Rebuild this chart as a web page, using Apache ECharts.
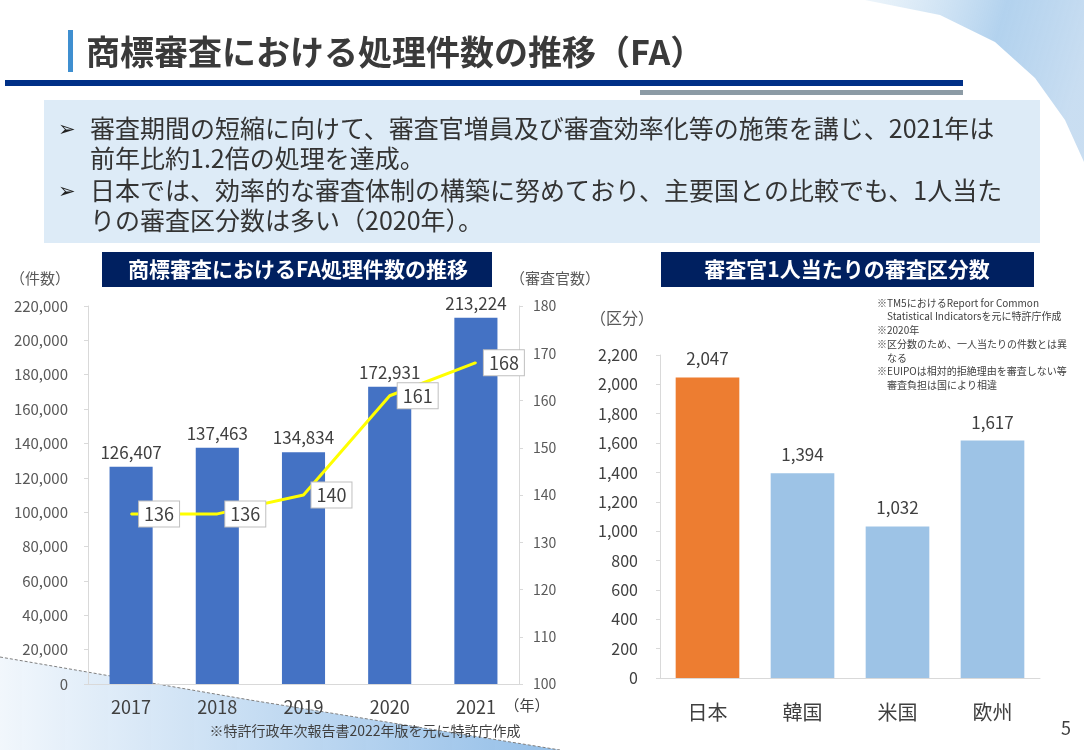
<!DOCTYPE html>
<html lang="ja">
<head>
<meta charset="UTF-8" />
<title>商標審査における処理件数の推移（FA）</title>
<script src="https://cdn.jsdelivr.net/npm/echarts@6/dist/echarts.min.js"></script>
<style>
  html, body { margin: 0; padding: 0; background: #fff; }
</style>
</head>
<body>
<div id="main" style="width: 1084px; height: 750px"></div>
<script type="text/javascript">
  // left chart data
  const years = ["2017", "2018", "2019", "2020", "2021"];
  const faCounts = [126407, 137463, 134834, 172931, 213224];
  const examiners = [136, 136, 140, 161, 168];

  // right chart data
  const countries = ["日本", "韓国", "米国", "欧州"];
  const classesPerExaminer = [2047, 1394, 1032, 1617];
  const countryColors = ["#ED7D31", "#9DC3E6", "#9DC3E6", "#9DC3E6"];

  const bullets = [
    ["審査期間の短縮に向けて、審査官増員及び審査効率化等の施策を講じ、2021年は", "前年比約1.2倍の処理を達成。"],
    ["日本では、効率的な審査体制の構築に努めており、主要国との比較でも、1人当た", "りの審査区分数は多い（2020年）。"]
  ];
  const notes = [
    "※TM5におけるReport for Common",
    "　Statistical Indicatorsを元に特許庁作成",
    "※2020年",
    "※区分数のため、一人当たりの件数とは異",
    "　なる",
    "※EUIPOは相対的拒絶理由を審査しない等",
    "　審査負担は国により相違"
  ];

  const FONT = '"Noto Sans CJK JP", "Noto Sans", sans-serif';
  const fmt = (v) => String(v).replace(/\B(?=(\d{3})+(?!\d))/g, ",");

  const myChart = echarts.init(document.getElementById("main"));

  // slide decoration + texts
  const graphics = [
    // top-right swoosh
    {
      type: "polygon", z: -10, silent: true,
      shape: { points: [[865, 0], [1084, 0], [1084, 162], [1065, 120], [1035, 78], [995, 42], [940, 15]] },
      style: {
        fill: new echarts.graphic.LinearGradient(0, 0, 1, 0.4, [
          { offset: 0, color: "rgba(225,238,248,0.6)" },
          { offset: 0.6, color: "rgba(165,202,235,0.85)" },
          { offset: 1, color: "rgba(195,218,240,0.9)" }
        ])
      }
    },
    // bottom-left swoosh
    {
      type: "polygon", z: -10, silent: true,
      shape: { points: [[0, 657], [250, 700], [560, 750], [0, 750]] },
      style: {
        fill: new echarts.graphic.LinearGradient(0, 0, 1, 0, [
          { offset: 0, color: "rgba(240,246,252,0.9)" },
          { offset: 1, color: "rgba(130,180,228,0.85)" }
        ])
      }
    },
    {
      type: "polyline", z: -9, silent: true,
      shape: { points: [[0, 657], [250, 700], [560, 750]] },
      style: { stroke: "#7F7F7F", lineWidth: 1, lineDash: [3, 2], fill: null }
    },
    // title
    { type: "rect", shape: { x: 68, y: 30, width: 5, height: 42 }, style: { fill: "#3F8FD0" } },
    {
      type: "text", x: 86, y: 52,
      style: { text: "商標審査における処理件数の推移（FA）", font: "bold 34px " + FONT, fill: "#3A3A3A", verticalAlign: "middle" }
    },
    { type: "rect", shape: { x: 5, y: 80, width: 958, height: 6 }, style: { fill: "#003087" } },
    { type: "rect", shape: { x: 640, y: 90, width: 323, height: 5 }, style: { fill: "#8C9BA5" } },
    // bullet box
    { type: "rect", z: -5, shape: { x: 44, y: 100, width: 996, height: 143 }, style: { fill: "#DDEBF7" } },
    // chart title boxes
    { type: "rect", shape: { x: 102, y: 252, width: 390, height: 35 }, style: { fill: "#002060" } },
    {
      type: "text", x: 298, y: 269,
      style: { text: "商標審査におけるFA処理件数の推移", font: "bold 21px " + FONT, fill: "#fff", align: "center", verticalAlign: "middle" }
    },
    { type: "rect", shape: { x: 661, y: 252, width: 373, height: 35 }, style: { fill: "#002060" } },
    {
      type: "text", x: 847, y: 269,
      style: { text: "審査官1人当たりの審査区分数", font: "bold 21px " + FONT, fill: "#fff", align: "center", verticalAlign: "middle" }
    },
    // axis names
    { type: "text", x: 40, y: 278, style: { text: "（件数）", font: "15px " + FONT, fill: "#595959", align: "center", verticalAlign: "middle" } },
    { type: "text", x: 555, y: 278, style: { text: "（審査官数）", font: "15px " + FONT, fill: "#595959", align: "center", verticalAlign: "middle" } },
    { type: "text", x: 622, y: 318, style: { text: "（区分）", font: "16px " + FONT, fill: "#595959", align: "center", verticalAlign: "middle" } },
    { type: "text", x: 527, y: 705, style: { text: "（年）", font: "15px " + FONT, fill: "#404040", align: "center", verticalAlign: "middle" } },
    // footnote + page number
    { type: "text", x: 365, y: 731, style: { text: "※特許行政年次報告書2022年版を元に特許庁作成", font: "14px " + FONT, fill: "#404040", align: "center", verticalAlign: "middle" } },
    { type: "text", x: 1066, y: 728, style: { text: "5", font: "18px " + FONT, fill: "#404040", align: "center", verticalAlign: "middle" } }
  ];

  bullets.forEach((lines, i) => {
    const y0 = 128 + i * 62;
    graphics.push({ type: "text", x: 58, y: y0, style: { text: "➢", font: "21px " + FONT, fill: "#222", verticalAlign: "middle" } });
    lines.forEach((t, j) => {
      graphics.push({ type: "text", x: 90, y: y0 + j * 30, style: { text: t, font: "25px " + FONT, fill: "#333", verticalAlign: "middle" } });
    });
  });

  notes.forEach((t, i) => {
    graphics.push({ type: "text", x: 877, y: 303 + i * 13.7, style: { text: t, font: "10px " + FONT, fill: "#404040", verticalAlign: "middle" } });
  });

  const axisLabel = { color: "#595959", fontSize: 15, fontFamily: FONT };
  const grayLine = { lineStyle: { color: "#D9D9D9", width: 1 } };

  const options = {
    textStyle: { fontFamily: FONT },
    animation: false,
    graphic: graphics,
    grid: [
      { left: 88, right: 565, top: 306, bottom: 66 },
      { left: 660, right: 44, top: 355, bottom: 72 }
    ],
    xAxis: [
      {
        type: "category", gridIndex: 0, data: years,
        axisLine: grayLine, axisTick: { show: false },
        axisLabel: { color: "#404040", fontSize: 18, margin: 14, fontFamily: FONT }
      },
      {
        type: "category", gridIndex: 1, data: countries,
        axisLine: grayLine, axisTick: { show: false },
        axisLabel: { color: "#404040", fontSize: 20, margin: 24, fontFamily: FONT }
      }
    ],
    yAxis: [
      {
        type: "value", gridIndex: 0, min: 0, max: 220000, interval: 20000,
        axisLine: { show: true, lineStyle: { color: "#D9D9D9" } },
        axisTick: { show: true, length: 4, lineStyle: { color: "#D9D9D9" } },
        splitLine: { show: false },
        axisLabel: Object.assign({ margin: 20, formatter: fmt }, axisLabel)
      },
      {
        type: "value", gridIndex: 0, position: "right", min: 100, max: 180, interval: 10,
        axisLine: { show: true, lineStyle: { color: "#D9D9D9" } },
        axisTick: { show: true, length: 4, lineStyle: { color: "#D9D9D9" } },
        splitLine: { show: false },
        axisLabel: Object.assign({ margin: 14 }, axisLabel, { fontSize: 14 })
      },
      {
        type: "value", gridIndex: 1, min: 0, max: 2200, interval: 200,
        axisLine: { show: true, lineStyle: { color: "#D9D9D9" } },
        axisTick: { show: true, length: 4, lineStyle: { color: "#D9D9D9" } },
        splitLine: { show: false },
        axisLabel: Object.assign({ margin: 22, formatter: fmt }, axisLabel, { fontSize: 16, color: "#404040" })
      }
    ],
    series: [
      {
        name: "FA処理件数", type: "bar", xAxisIndex: 0, yAxisIndex: 0,
        data: faCounts, barWidth: "50%",
        itemStyle: { color: "#4472C4" },
        label: {
          show: true, position: "top", distance: 6,
          color: "#404040", fontSize: 17, fontFamily: FONT,
          formatter: (p) => fmt(p.value)
        }
      },
      {
        name: "審査官数", type: "line", xAxisIndex: 0, yAxisIndex: 1,
        data: examiners, symbol: "circle", symbolSize: 2,
        lineStyle: { color: "#FFFF00", width: 3 },
        itemStyle: { color: "#FFFF00" },
        label: {
          show: true, position: "right", distance: 7,
          color: "#404040", fontSize: 18, fontFamily: FONT,
          backgroundColor: "#fff", borderColor: "#BFBFBF", borderWidth: 1,
          padding: [4, 5, 3, 5]
        },
        z: 5
      },
      {
        name: "審査区分数", type: "bar", xAxisIndex: 1, yAxisIndex: 2,
        data: classesPerExaminer.map((v, i) => ({ value: v, itemStyle: { color: countryColors[i] } })),
        barWidth: "67%",
        label: {
          show: true, position: "top", distance: 10,
          color: "#404040", fontSize: 17, fontFamily: FONT,
          formatter: (p) => fmt(p.value)
        }
      }
    ]
  };

  myChart.setOption(options);
</script>
</body>
</html>
